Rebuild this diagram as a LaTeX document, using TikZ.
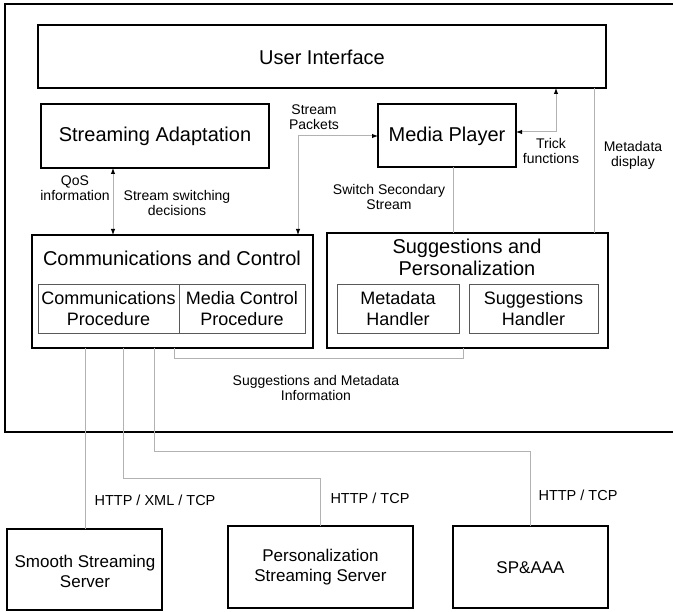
\documentclass[tikz,border=0pt]{standalone}
\usepackage{fontspec}
\setmainfont{Liberation Sans}
\usetikzlibrary{arrows.meta}
\begin{document}
\begin{tikzpicture}[x=1pt,y=-1pt,
  bigbox/.style={draw=black,line width=2.6pt,inner sep=0pt,outer sep=0pt,anchor=north west,fill=white},
  innerbox/.style={draw=black!65,line width=0.9pt,inner sep=0pt,outer sep=0pt,anchor=north west,align=center,font=\fontsize{18}{21}\selectfont},
  bigtxt/.style={font=\fontsize{20}{22}\selectfont,align=center,inner sep=0pt},
  srvtxt/.style={font=\fontsize{17}{20}\selectfont,align=center,inner sep=0pt},
  lbl/.style={font=\fontsize{14}{15}\selectfont,align=center,inner sep=0pt},
  httplbl/.style={font=\fontsize{14.5}{16}\selectfont,align=center,inner sep=0pt},
  conn/.style={draw=black!30,line width=1pt},
  tip/.tip={Latex[length=6pt,width=4.5pt,color=black]}
]
\useasboundingbox (0,0) rectangle (673,612);
\begin{scope}
\clip (0,0) rectangle (673,612);
% outer frame (its right side lies beyond the picture's edge)
\draw[line width=2.8pt] (5,4) rectangle (690,432);
\end{scope}
% boxes
\node[bigbox,minimum width=568pt,minimum height=63pt] (ui) at (38,25) {};
\node[bigtxt] (uit) at (322,57) {User Interface};
\node[bigbox,minimum width=228pt,minimum height=64pt] (sa) at (41,104) {};
\node[bigtxt] (sat) at (155,136) {Streaming Adaptation};
\node[bigbox,minimum width=138pt,minimum height=63pt] (mp) at (378,104) {};
\node[bigtxt] (mpt) at (447,136) {Media Player};
\node[bigbox,minimum width=281pt,minimum height=113pt] (cc) at (32,235) {};
\node[bigtxt] (cct) at (172,258) {Communications and Control};
\node[innerbox,minimum width=141pt,minimum height=49pt] (cp) at (38,284) {Communications\\Procedure};
\node[innerbox,minimum width=126pt,minimum height=49pt] (mcp) at (179,284) {Media Control\\Procedure};
\node[bigbox,minimum width=281pt,minimum height=115pt] (sp) at (327,233) {};
\node[bigtxt,font=\fontsize{20}{21.5}\selectfont] (spt) at (467,257.5) {Suggestions and\\Personalization};
\node[innerbox,minimum width=122pt,minimum height=49pt] (mh) at (337,284) {Metadata\\Handler};
\node[innerbox,minimum width=129pt,minimum height=49pt] (sh) at (469,284) {Suggestions\\Handler};
% servers
\node[bigbox,minimum width=155pt,minimum height=81pt] (sss) at (7,529) {};
\node[srvtxt] (ssst) at (85,571) {Smooth Streaming\\Server};
\node[bigbox,minimum width=185pt,minimum height=82pt] (pss) at (228,526) {};
\node[srvtxt] (psst) at (320.5,567) {Personalization\\Streaming Server};
\node[bigbox,minimum width=155pt,minimum height=82pt] (spa) at (453,526) {};
\node[srvtxt] (spat) at (530.5,568) {SP\&AAA};
% connectors
\coordinate (xq) at (113,0);
\draw[conn,tip-tip] (xq |- sa.south) -- (xq |- cc.north);
\node[lbl] (qos) at (75,188) {QoS\\information};
\node[lbl] (ssd) at (177,203) {Stream switching\\decisions};
\coordinate (spk) at (298,136);
\draw[conn,tip-tip] (spk |- cc.north) -- (spk) -- (spk -| mp.west);
\node[lbl] (spl) at (314,117) {Stream\\Packets};
\coordinate (tr) at (556,132);
\draw[conn,tip-tip] (tr -| mp.east) -- (tr) -- (tr |- ui.south);
\node[lbl] (trl) at (551,150.5) {Trick\\functions};
\coordinate (md) at (594,0);
\draw[conn] (md |- ui.south) -- (md |- sp.north);
\node[lbl] (mdl) at (633,155.5) {Metadata\\display};
\coordinate (sw) at (453,0);
\draw[conn] (sw |- mp.south) -- (sw |- sp.north);
\node[lbl] (swl) at (389,197) {Switch Secondary\\Stream};
\coordinate (sg1) at (174,359);
\coordinate (sg2) at (463,359);
\draw[conn] (sg1 |- cc.south) -- (sg1) -- (sg2) -- (sg2 |- sp.south);
\node[lbl] (sgl) at (316,387.5) {Suggestions and Metadata\\Information};
\coordinate (s1) at (85,0);
\draw[conn] (s1 |- cc.south) -- (s1 |- sss.north);
\coordinate (s2) at (123,479);
\draw[conn] (s2 |- cc.south) -- (s2) -- (s2 -| pss.north) -- (pss.north);
\coordinate (s3) at (154,452);
\draw[conn] (s3 |- cc.south) -- (s3) -- (s3 -| spa.north) -- (spa.north);
\node[httplbl] (h1) at (155,500) {HTTP / XML / TCP};
\node[httplbl] (h2) at (370,498) {HTTP / TCP};
\node[httplbl] (h3) at (578,495) {HTTP / TCP};
\end{tikzpicture}
\end{document}
